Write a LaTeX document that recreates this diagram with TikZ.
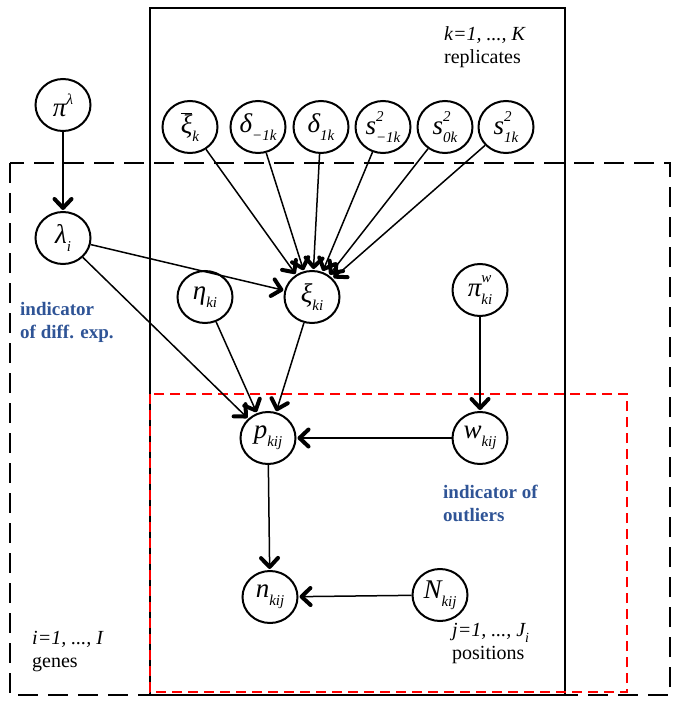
\documentclass[tikz,border=0pt]{standalone}
\usepackage{fontspec}
\setmainfont{Liberation Serif}
\usetikzlibrary{shapes.geometric,arrows.meta}
\definecolor{lblblue}{RGB}{47,84,150}
\newcommand\ssz{\fontsize{15}{15}\selectfont\itshape}
\newcommand\vsub[2]{{\itshape #1}\raisebox{-0.3em}{\ssz #2}}
\newcommand\vsup[2]{{\itshape #1}\raisebox{0.45em}{\ssz #2}}
\newcommand\vboth[3]{{\itshape #1}\makebox[0pt][l]{\raisebox{0.5em}{\ssz #2}}\raisebox{-0.3em}{\ssz #3}}
\tikzset{bigtip/.tip={Straight Barb[length=9pt,width=17pt,line width=4pt,round]}}
\begin{document}
\begin{tikzpicture}[x=1pt,y=-1pt,
  var/.style={ellipse,draw,line width=2pt,minimum width=55pt,minimum height=52pt,inner sep=0pt,font=\fontsize{27}{27}\selectfont},
  edge/.style={line width=1.5pt,-bigtip,shorten >=1pt},
  lbl/.style={font=\fontsize{20}{23}\selectfont,align=left,anchor=north west,inner sep=0pt},
  blbl/.style={font=\fontsize{19}{23}\selectfont\bfseries,text=lblblue,align=left,anchor=north west,inner sep=0pt}]
\useasboundingbox (0,0) rectangle (678,703);
% plates
\draw[line width=1.8pt] (150,8) rectangle (565,695);
\draw[line width=1.8pt,dash pattern=on 20pt off 10pt] (10,163) rectangle (670,695);
\draw[line width=1.8pt,red,dash pattern=on 10pt off 6pt] (150,394) rectangle (627,692);
% nodes
\node[var] (pil) at (63,105) {\vsup{π}{λ}};
\node[var] (lam) at (63,238) {\vsub{λ}{i}};
\node[var] (xib) at (190,127) {$\overline{\hbox{\itshape ξ}}$\raisebox{-0.3em}{\ssz k}};
\node[var] (dm) at (258,127) {\vsub{δ}{−1k}};
\node[var] (d1) at (321,127) {\vsub{δ}{1k}};
\node[var] (sm) at (383,127) {\vboth{s}{2}{−1k}};
\node[var] (s0) at (445,127) {\vboth{s}{2}{0k}};
\node[var] (s1) at (506,127) {\vboth{s}{2}{1k}};
\node[var] (eta) at (205,297) {\vsub{η}{ki}};
\node[var] (xi) at (312,297) {\vsub{ξ}{ki}};
\node[var] (piw) at (480,290) {\vboth{π}{w}{ki}};
\node[var] (p) at (268,438) {\vsub{p}{kij}};
\node[var] (w) at (480,438) {\vsub{w}{kij}};
\node[var] (n) at (270,597) {\vsub{n}{kij}};
\node[var] (N) at (440,595) {\vsub{N}{kij}};
% edges
\draw[edge] (pil) -- (lam);
\draw[edge] (lam) -- (xi);
\draw[edge] (lam) -- (p);
\foreach \s in {xib,dm,d1,sm,s0,s1} \draw[edge] (\s) -- (xi);
\draw[edge] (eta) -- (p);
\draw[edge] (xi) -- (p);
\draw[edge] (piw) -- (w);
\draw[edge] (w) -- (p);
\draw[edge] (p) -- (n);
\draw[edge] (N) -- (n);
% labels
\node[lbl] (kl) at (444,26) {\itshape k=1, ..., K\\replicates};
\node[lbl] (il) at (32,631) {\itshape i=1, ..., I\\genes};
\node[lbl] (jl) at (452,623) {\itshape j=1, ..., J\raisebox{-0.3em}{\fontsize{14}{14}\selectfont i}\\positions};
\node[blbl] (ind1) at (20,302) {indicator\\of diff. exp.};
\node[blbl] (ind2) at (443,485) {indicator of\\outliers};
\end{tikzpicture}
\end{document}
